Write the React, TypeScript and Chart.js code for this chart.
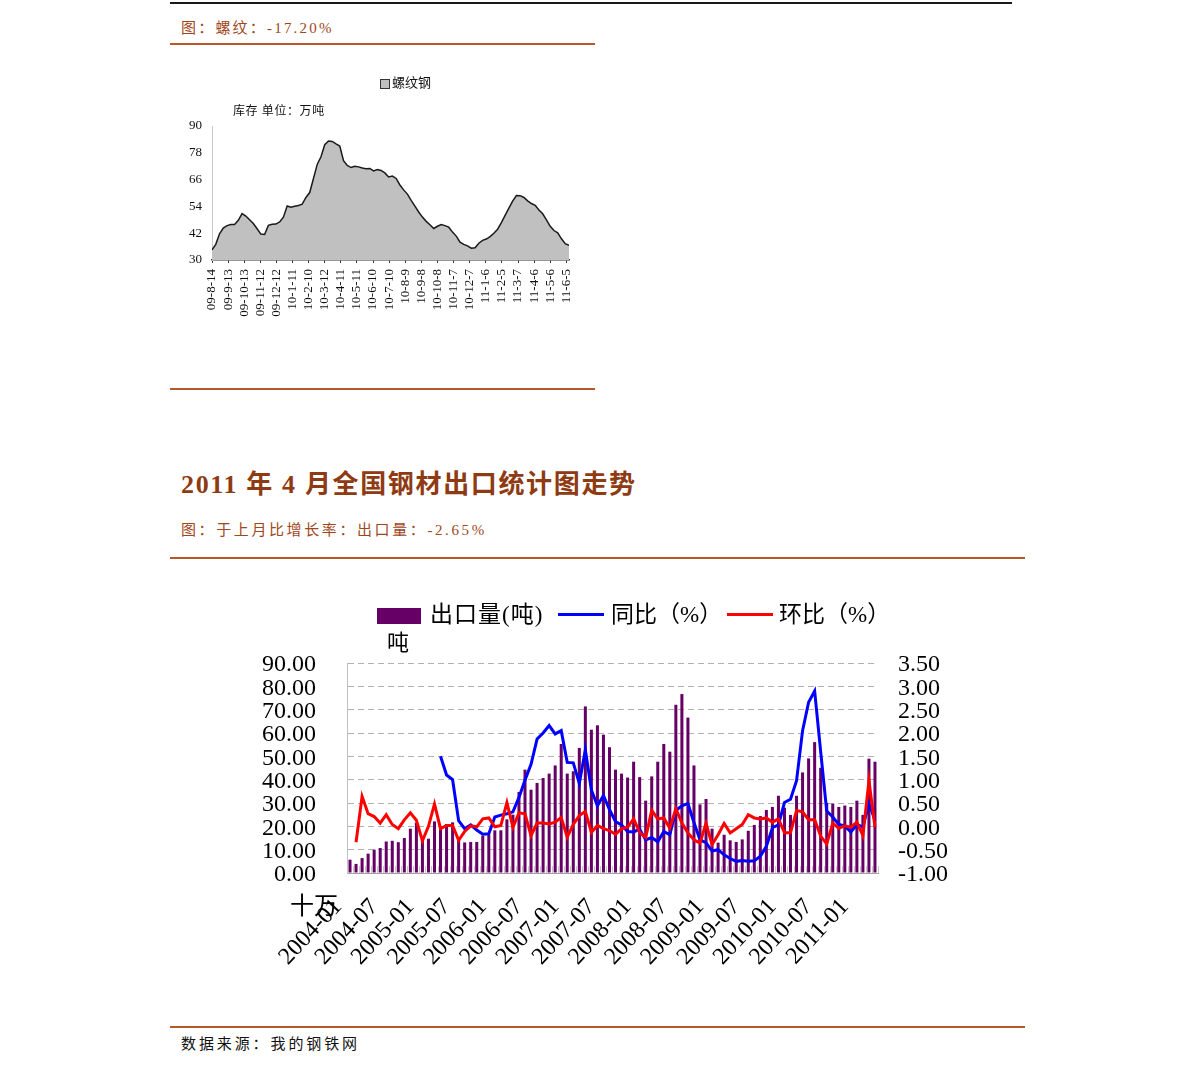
import React, { useEffect, useRef } from "react";
import { Chart, registerables } from "chart.js";

Chart.register(...registerables);

// ---------- Chart 1: rebar inventory (weekly) ----------
const stockTickLabels = [
  "09-8-14", "09-9-13", "09-10-13", "09-11-12", "09-12-12", "10-1-11", "10-2-10",
  "10-3-12", "10-4-11", "10-5-11", "10-6-10", "10-7-10", "10-8-9", "10-9-8",
  "10-10-8", "10-11-7", "10-12-7", "11-1-6", "11-2-5", "11-3-7", "11-4-6",
  "11-5-6", "11-6-5",
];
const DAYS_PER_TICK = 30;
const DAYS_PER_POINT = 7;
const stockValues = [
  34.5, 37, 41.7, 44.3, 45.4, 45.9, 45.9, 47.8, 50.8, 49.7,
  48, 46.3, 44, 41.6, 41.4, 45.5, 46, 46.1, 47, 49.2,
  54.2, 53.6, 54.1, 54.4, 55, 58, 60.2, 66.5, 72.8, 76.2,
  81.6, 83.3, 83.1, 82, 81, 74.5, 72.3, 71.4, 72, 71.7,
  71.2, 70.9, 71, 69.9, 70.5, 70.1, 69, 67.2, 67.6, 66.5,
  63.6, 61.4, 59.5, 56.7, 54.1, 51.5, 49.2, 47.3, 45.8, 44.1,
  45.1, 45.9, 45.4, 44.7, 42.5, 40.7, 38, 37, 36.3, 35.3,
  35.5, 37.5, 38.8, 39.4, 40.5, 42, 43.8, 46.7, 50, 53.2,
  56.4, 58.9, 58.8, 58, 56.5, 55.3, 54.5, 52.4, 50.7, 48,
  45.1, 43.2, 42.2, 39.5, 37.3, 36.6,
];

// ---------- Chart 2: steel exports ----------
const exportMonths = [
  "2004-01", "2004-02", "2004-03", "2004-04", "2004-05", "2004-06", "2004-07", "2004-08", "2004-09", "2004-10", "2004-11", "2004-12",
  "2005-01", "2005-02", "2005-03", "2005-04", "2005-05", "2005-06", "2005-07", "2005-08", "2005-09", "2005-10", "2005-11", "2005-12",
  "2006-01", "2006-02", "2006-03", "2006-04", "2006-05", "2006-06", "2006-07", "2006-08", "2006-09", "2006-10", "2006-11", "2006-12",
  "2007-01", "2007-02", "2007-03", "2007-04", "2007-05", "2007-06", "2007-07", "2007-08", "2007-09", "2007-10", "2007-11", "2007-12",
  "2008-01", "2008-02", "2008-03", "2008-04", "2008-05", "2008-06", "2008-07", "2008-08", "2008-09", "2008-10", "2008-11", "2008-12",
  "2009-01", "2009-02", "2009-03", "2009-04", "2009-05", "2009-06", "2009-07", "2009-08", "2009-09", "2009-10", "2009-11", "2009-12",
  "2010-01", "2010-02", "2010-03", "2010-04", "2010-05", "2010-06", "2010-07", "2010-08", "2010-09", "2010-10", "2010-11", "2010-12",
  "2011-01", "2011-02", "2011-03", "2011-04",
];
const exportTickLabels = [
  "2004-01", "2004-07", "2005-01", "2005-07", "2006-01", "2006-07", "2007-01", "2007-07",
  "2008-01", "2008-07", "2009-01", "2009-07", "2010-01", "2010-07", "2011-01",
];
const exportVolume = [
  5.7, 3.9, 6.4, 8.3, 10, 10.7, 13.5, 13.8, 13.2, 15, 19, 21.6,
  14.3, 14.7, 22.1, 19.3, 21, 21.7, 14.3, 13.1, 13.3, 13.3, 16, 16.4,
  18.3, 18.3, 23, 25, 34.7, 44.3, 35.7, 38.6, 40.7, 42.6, 46.1, 55.3,
  42.6, 43.6, 53.6, 71.4, 61.4, 63.3, 59.3, 53.9, 44.3, 42.6, 40.9, 47.7,
  41.1, 31, 41.4, 47.7, 55.3, 52, 72.1, 76.7, 66.6, 46.1, 29.4, 31.7,
  19, 13, 16.4, 14, 13.3, 14.4, 18.1, 20.6, 24.4, 27, 28.3, 33.1,
  28, 24.9, 33.1, 43.1, 49.1, 56.1, 45.1, 30, 29.7, 28.3, 28.9, 28.3,
  31, 24.9, 49, 47.7,
];
const yoyChange = [
  null, null, null, null, null, null, null, null, null, null, null, null,
  null, null, null, 1.5, 1.1, 1.0, 0.12, -0.05, 0.03, -0.08, -0.17, -0.16,
  0.2, 0.24, 0.27, 0.31, 0.62, 0.99, 1.33, 1.87, 2.0, 2.16, 1.98, 2.05,
  1.37, 1.36, 0.92, 1.64, 0.78, 0.44, 0.66, 0.36, 0.1, 0.03, -0.11, -0.12,
  -0.06, -0.29, -0.24, -0.33, -0.11, -0.18, 0.34, 0.44, 0.49, 0.08, -0.29, -0.35,
  -0.53, -0.5, -0.61, -0.69, -0.75, -0.73, -0.75, -0.74, -0.64, -0.43, -0.03, 0.03,
  0.51, 0.58, 0.98, 2.05, 2.66, 2.9, 1.6, 0.33, 0.2, 0.04, 0.01, -0.12,
  0.04, -0.01, 0.49, 0.13,
];
const momChange = [
  null, -0.34, 0.64, 0.27, 0.21, 0.07, 0.25, 0.04, -0.05, 0.14, 0.29, 0.13,
  -0.31, 0, 0.48, -0.05, 0.02, 0.02, -0.3, -0.11, 0.01, -0.01, 0.16, 0.18,
  -0.01, 0.02, 0.51, -0.02, 0.29, 0.27, -0.2, 0.07, 0.07, 0.05, 0.09, 0.19,
  -0.23, 0.04, 0.23, 0.32, -0.13, 0.02, -0.05, -0.09, -0.17, -0.05, -0.02, 0.16,
  -0.13, -0.24, 0.34, 0.16, 0.18, -0.04, 0.38, 0.07, -0.14, -0.29, -0.36, 0.07,
  -0.39, -0.18, 0.06, -0.14, -0.05, 0.04, 0.25, 0.18, 0.16, 0.18, 0.09, 0.16,
  -0.14, -0.14, 0.34, 0.31, 0.14, 0.14, -0.21, -0.38, 0.07, -0.04, 0.01, -0.02,
  0.09, -0.2, 0.98, -0.02,
];

const FONT = '"Liberation Serif", "Noto Sans CJK SC", serif';
const BROWN_TEXT = "#a0461c";
const BROWN_LINE = "#b5582a";

function ChartCanvas({ config, left, top, width, height }: any) {
  const ref = useRef<HTMLCanvasElement | null>(null);
  useEffect(() => {
    if (!ref.current) return;
    const chart = new Chart(ref.current, config);
    return () => chart.destroy();
  }, []);
  return (
    <canvas
      ref={ref}
      width={width}
      height={height}
      style={{ position: "absolute", left, top, width, height }}
    />
  );
}

const stockConfig: any = {
  type: "line",
  data: {
    datasets: [
      {
        label: "螺纹钢",
        data: stockValues.map((v, i) => ({ x: i * DAYS_PER_POINT, y: v })),
        borderColor: "#1a1a1a",
        borderWidth: 1.5,
        backgroundColor: "#c0c0c0",
        fill: "start",
        pointRadius: 0,
        tension: 0,
      },
    ],
  },
  options: {
    responsive: false,
    animation: false,
    layout: { padding: { top: 66, right: 26, left: 0, bottom: 0 } },
    plugins: { legend: { display: false }, tooltip: { enabled: false } },
    scales: {
      x: {
        type: "linear",
        min: 0,
        max: (stockValues.length - 1) * DAYS_PER_POINT,
        afterBuildTicks: (s: any) => {
          s.ticks = stockTickLabels.map((_, i) => ({ value: i * DAYS_PER_TICK }));
        },
        ticks: {
          autoSkip: false,
          minRotation: 90,
          maxRotation: 90,
          padding: 6,
          color: "#111",
          font: { family: FONT, size: 13 },
          callback: (_v: any, i: number) => stockTickLabels[i],
        },
        grid: { drawOnChartArea: false, drawTicks: true, tickLength: 3, color: "#333" },
        border: { color: "#333", width: 1.5 },
        afterFit: (s: any) => {
          s.height = 128;
        },
      },
      y: {
        min: 30,
        max: 90,
        ticks: { stepSize: 12, padding: 10, autoSkip: false, color: "#111", font: { family: FONT, size: 13 } },
        grid: { display: false, drawTicks: false },
        border: { color: "#c8c8c8", width: 1 },
        afterFit: (s: any) => {
          s.width = 42;
        },
      },
    },
  },
};

const innerTicks = {
  id: "innerTicks",
  beforeDatasetsDraw(chart: any) {
    const { ctx, chartArea, scales } = chart;
    const x = scales.x;
    const n = exportMonths.length;
    const w = x.getPixelForValue(1) - x.getPixelForValue(0);
    ctx.save();
    ctx.strokeStyle = "#c8c8c8";
    ctx.lineWidth = 1;
    for (let i = 0; i <= n; i++) {
      const px = Math.round(x.getPixelForValue(0) - w / 2 + i * w) + 0.5;
      ctx.beginPath();
      ctx.moveTo(px, chartArea.bottom);
      ctx.lineTo(px, chartArea.bottom - 7);
      ctx.stroke();
    }
    ctx.restore();
  },
};

const exportConfig: any = {
  type: "bar",
  data: {
    labels: exportMonths,
    datasets: [
      {
        type: "bar",
        label: "出口量(吨)",
        data: exportVolume,
        backgroundColor: "#660066",
        yAxisID: "y",
        barPercentage: 0.5,
        categoryPercentage: 1,
        order: 3,
      },
      {
        type: "line",
        label: "同比（%）",
        data: yoyChange,
        borderColor: "#0000ff",
        borderWidth: 3,
        pointRadius: 0,
        tension: 0,
        yAxisID: "y1",
        order: 2,
      },
      {
        type: "line",
        label: "环比（%）",
        data: momChange,
        borderColor: "#ff0000",
        borderWidth: 3,
        pointRadius: 0,
        tension: 0,
        yAxisID: "y1",
        order: 1,
      },
    ],
  },
  options: {
    responsive: false,
    animation: false,
    layout: { padding: { top: 73, left: 0, right: 0, bottom: 0 } },
    plugins: { legend: { display: false }, tooltip: { enabled: false } },
    scales: {
      x: {
        ticks: {
          autoSkip: false,
          minRotation: 47,
          maxRotation: 47,
          padding: 20,
          labelOffset: -12,
          color: "#000",
          font: { family: FONT, size: 24 },
          callback: (_v: any, i: number) =>
            exportTickLabels.includes(exportMonths[i]) ? exportMonths[i] : "",
        },
        grid: { display: false, drawTicks: false },
        border: { color: "#a0a0a0", width: 1 },
        afterFit: (s: any) => {
          s.height = 147;
        },
      },
      y: {
        position: "left",
        min: 0,
        max: 90,
        ticks: {
          stepSize: 10,
          autoSkip: false,
          padding: 31,
          labelOffset: 2,
          color: "#000",
          font: { family: FONT, size: 24 },
          callback: (v: any) => Number(v).toFixed(2),
        },
        grid: { color: "#b0b0b0", lineWidth: 1, drawTicks: false },
        border: { color: "#c0c0c0", width: 1, dash: [6, 4] },
        afterFit: (s: any) => {
          s.width = 177;
        },
      },
      y1: {
        position: "right",
        min: -1,
        max: 3.5,
        ticks: {
          stepSize: 0.5,
          autoSkip: false,
          padding: 20,
          labelOffset: 2,
          color: "#000",
          font: { family: FONT, size: 24 },
          callback: (v: any) => Number(v).toFixed(2),
        },
        grid: { display: false, drawTicks: false },
        border: { display: false },
        afterFit: (s: any) => {
          s.width = 147;
        },
      },
    },
  },
  plugins: [innerTicks],
};

const abs = (left: number, top: number, extra: any = {}) => ({
  position: "absolute" as const,
  left,
  top,
  whiteSpace: "nowrap" as const,
  ...extra,
});

export default function App() {
  return (
    <div style={{ position: "absolute", left: 0, top: 0, width: 1191, height: 1073, fontFamily: FONT }}>
      <div style={abs(170, 2, { width: 842, height: 2, background: "#1a1a1a" })} />
      <div style={abs(181, 19, { fontSize: 15, lineHeight: "18px", color: BROWN_TEXT, letterSpacing: 2.2 })}>
        图：螺纹：-17.20%
      </div>
      <div style={abs(170, 43, { width: 425, height: 2, background: BROWN_LINE })} />

      <ChartCanvas config={stockConfig} left={170} top={60} width={425} height={328} />
      <div style={abs(380, 79, { width: 8, height: 8, background: "#c0c0c0", border: "1px solid #333" })} />
      <div style={abs(392, 75, { fontSize: 13, lineHeight: "16px", color: "#111" })}>螺纹钢</div>
      <div style={abs(233, 103, { fontSize: 12, lineHeight: "16px", color: "#111", letterSpacing: 0.6 })}>
        库存 单位：万吨
      </div>
      <div style={abs(170, 388, { width: 425, height: 2, background: BROWN_LINE })} />

      <div
        style={abs(181, 469, {
          fontSize: 26,
          lineHeight: "32px",
          fontWeight: "bold",
          color: "#8e3a12",
          letterSpacing: 1.65,
        })}
      >
        2011 年 4 月全国钢材出口统计图走势
      </div>
      <div style={abs(181, 521, { fontSize: 15, lineHeight: "18px", color: BROWN_TEXT, letterSpacing: 2.6 })}>
        图：于上月比增长率：出口量：-2.65%
      </div>
      <div style={abs(170, 557, { width: 855, height: 2, background: BROWN_LINE })} />

      <ChartCanvas config={exportConfig} left={170} top={590} width={855} height={430} />
      <div style={abs(377, 608, { width: 44, height: 16, background: "#660066" })} />
      <div style={abs(430, 601, { fontSize: 23, lineHeight: "28px", color: "#000", letterSpacing: 1 })}>出口量(吨)</div>
      <div style={abs(558, 613, { width: 46, height: 3, background: "#0000ff" })} />
      <div style={abs(611, 601, { fontSize: 23, lineHeight: "28px", color: "#000" })}>同比（%）</div>
      <div style={abs(727, 613, { width: 46, height: 3, background: "#ff0000" })} />
      <div style={abs(779, 601, { fontSize: 23, lineHeight: "28px", color: "#000" })}>环比（%）</div>
      <div style={abs(387, 629, { fontSize: 22, lineHeight: "28px", color: "#000" })}>吨</div>
      <div style={abs(290, 891, { fontSize: 24, lineHeight: "30px", color: "#000" })}>十万</div>

      <div style={abs(170, 1026, { width: 855, height: 2, background: BROWN_LINE })} />
      <div style={abs(181, 1035, { fontSize: 15, lineHeight: "18px", color: "#111", letterSpacing: 2.9 })}>
        数据来源：我的钢铁网
      </div>
    </div>
  );
}
